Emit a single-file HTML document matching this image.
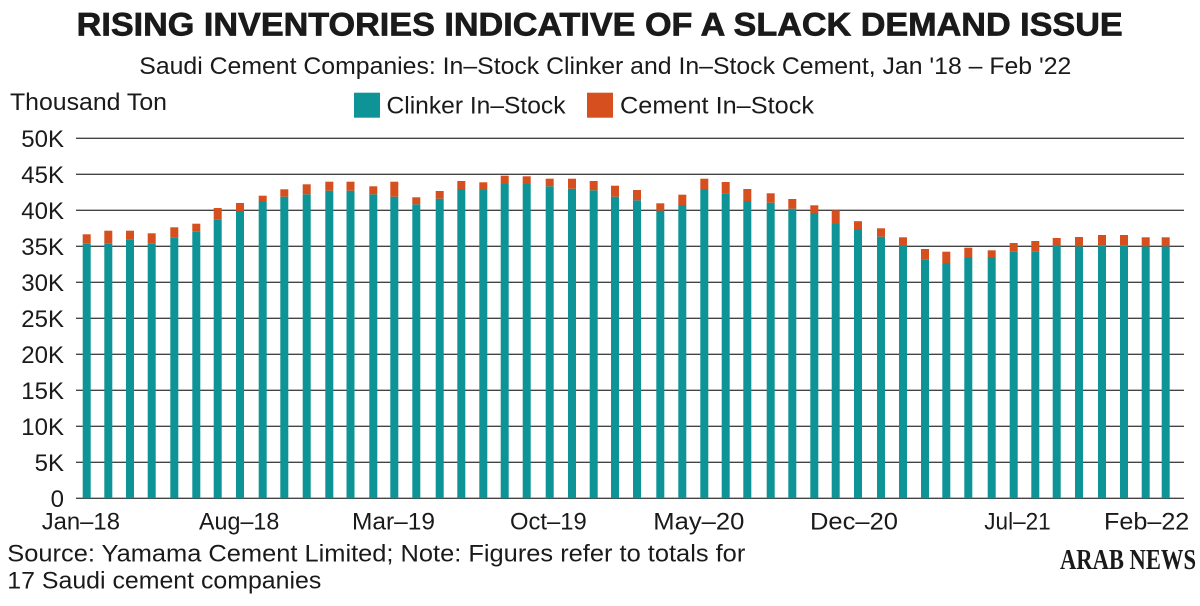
<!DOCTYPE html>
<html>
<head>
<meta charset="utf-8">
<style>
  html, body { margin: 0; padding: 0; background: #ffffff; }
  body { width: 1200px; height: 606px; overflow: hidden; }
  svg { display: block; }
  text { font-family: "Liberation Sans", "DejaVu Sans", sans-serif; fill: #1a1a1a; }
</style>
</head>
<body>
<svg width="1200" height="606" viewBox="0 0 1200 606" xmlns="http://www.w3.org/2000/svg">
  <rect x="0" y="0" width="1200" height="606" fill="#ffffff"/>

  <!-- Title -->
  <text x="76.7" y="35.7" font-size="32" font-weight="bold" stroke="#1a1a1a" stroke-width="0.7" textLength="1046" lengthAdjust="spacingAndGlyphs">RISING INVENTORIES INDICATIVE OF A SLACK DEMAND ISSUE</text>
  <!-- Subtitle -->
  <text x="139.3" y="74" font-size="24" textLength="932" lengthAdjust="spacingAndGlyphs">Saudi Cement Companies: In–Stock Clinker and In–Stock Cement, Jan '18 – Feb '22</text>

  <!-- Unit label -->
  <text x="10" y="110" font-size="24" textLength="157" lengthAdjust="spacingAndGlyphs">Thousand Ton</text>

  <!-- Legend -->
  <rect x="354" y="92.7" width="26" height="25" fill="#0e9396"/>
  <text x="386.5" y="113.5" font-size="24" textLength="179" lengthAdjust="spacingAndGlyphs">Clinker In–Stock</text>
  <rect x="587" y="92.7" width="26" height="25" fill="#d5501e"/>
  <text x="620" y="113.5" font-size="24" textLength="194" lengthAdjust="spacingAndGlyphs">Cement In–Stock</text>

  <!-- Gridlines -->
  <g stroke="#444444" stroke-width="1.4">
    <line x1="76" y1="138.3" x2="1184" y2="138.3"/>
    <line x1="76" y1="174.3" x2="1184" y2="174.3"/>
    <line x1="76" y1="210.3" x2="1184" y2="210.3"/>
    <line x1="76" y1="246.3" x2="1184" y2="246.3"/>
    <line x1="76" y1="282.3" x2="1184" y2="282.3"/>
    <line x1="76" y1="318.3" x2="1184" y2="318.3"/>
    <line x1="76" y1="354.3" x2="1184" y2="354.3"/>
    <line x1="76" y1="390.3" x2="1184" y2="390.3"/>
    <line x1="76" y1="426.3" x2="1184" y2="426.3"/>
    <line x1="76" y1="462.3" x2="1184" y2="462.3"/>
    <line x1="76" y1="498.3" x2="1184" y2="498.3"/>
  </g>

  <!-- Y labels -->
  <g font-size="24" text-anchor="end">
    <text x="64" y="146.8">50K</text>
    <text x="64" y="182.8">45K</text>
    <text x="64" y="218.8">40K</text>
    <text x="64" y="254.8">35K</text>
    <text x="64" y="290.8">30K</text>
    <text x="64" y="326.8">25K</text>
    <text x="64" y="362.8">20K</text>
    <text x="64" y="398.8">15K</text>
    <text x="64" y="434.8">10K</text>
    <text x="64" y="470.8">5K</text>
    <text x="64" y="506.8">0</text>
  </g>

  <!-- Bars: clinker (teal) -->
  <g fill="#0e9396">
    <rect x="82.7" y="243.7" width="8" height="254.6"/>
    <rect x="104.3" y="243.7" width="8" height="254.6"/>
    <rect x="126" y="239.3" width="8" height="259"/>
    <rect x="147.7" y="243.7" width="8" height="254.6"/>
    <rect x="170.3" y="237.3" width="8" height="261"/>
    <rect x="192.3" y="231.7" width="8" height="266.6"/>
    <rect x="213.7" y="219.3" width="8" height="279"/>
    <rect x="236" y="211" width="8" height="287.3"/>
    <rect x="258.7" y="201" width="8" height="297.3"/>
    <rect x="280.3" y="196.7" width="8" height="301.6"/>
    <rect x="302.7" y="194.3" width="8" height="304"/>
    <rect x="325.3" y="190.7" width="8" height="307.6"/>
    <rect x="346.5" y="190.7" width="8" height="307.6"/>
    <rect x="369.3" y="194.3" width="8" height="304"/>
    <rect x="390.3" y="196.7" width="8" height="301.6"/>
    <rect x="412.3" y="204.3" width="8" height="294"/>
    <rect x="435.7" y="198.7" width="8" height="299.6"/>
    <rect x="457.3" y="189" width="8" height="309.3"/>
    <rect x="479.3" y="190" width="8" height="308.3"/>
    <rect x="500.7" y="184" width="8" height="314.3"/>
    <rect x="522.7" y="184" width="8" height="314.3"/>
    <rect x="545.7" y="186.3" width="8" height="312"/>
    <rect x="568" y="188.7" width="8" height="309.6"/>
    <rect x="589.7" y="190.3" width="8" height="308"/>
    <rect x="611" y="196.7" width="8" height="301.6"/>
    <rect x="633" y="200.3" width="8" height="298"/>
    <rect x="656.3" y="210.7" width="8" height="287.6"/>
    <rect x="678.3" y="205" width="8" height="293.3"/>
    <rect x="700.3" y="189" width="8" height="309.3"/>
    <rect x="721.7" y="193.3" width="8" height="305"/>
    <rect x="743.3" y="201" width="8" height="297.3"/>
    <rect x="766.7" y="202.7" width="8" height="295.6"/>
    <rect x="788.3" y="208.7" width="8" height="289.6"/>
    <rect x="810.3" y="213" width="8" height="285.3"/>
    <rect x="831.7" y="224" width="8" height="274.3"/>
    <rect x="854" y="229.5" width="8" height="268.8"/>
    <rect x="877" y="236.7" width="8" height="261.6"/>
    <rect x="899" y="245.7" width="8" height="252.6"/>
    <rect x="921" y="259.3" width="8" height="239"/>
    <rect x="942.3" y="263" width="8" height="235.3"/>
    <rect x="964.3" y="257" width="8" height="241.3"/>
    <rect x="987.7" y="257" width="8" height="241.3"/>
    <rect x="1009.7" y="251.7" width="8" height="246.6"/>
    <rect x="1031.3" y="251.7" width="8" height="246.6"/>
    <rect x="1052.7" y="245.7" width="8" height="252.6"/>
    <rect x="1075" y="246.3" width="8" height="252"/>
    <rect x="1098" y="245.3" width="8" height="253"/>
    <rect x="1120" y="245.3" width="8" height="253"/>
    <rect x="1141.7" y="246.3" width="8" height="252"/>
    <rect x="1161.7" y="246.3" width="8" height="252"/>
  </g>

  <!-- Bars: cement (orange) -->
  <g fill="#d5501e">
    <rect x="82.7" y="234.3" width="8" height="9.4"/>
    <rect x="104.3" y="230.7" width="8" height="13"/>
    <rect x="126" y="230.7" width="8" height="8.6"/>
    <rect x="147.7" y="233.3" width="8" height="10.4"/>
    <rect x="170.3" y="227.3" width="8" height="10"/>
    <rect x="192.3" y="223.7" width="8" height="8"/>
    <rect x="213.7" y="208" width="8" height="11.3"/>
    <rect x="236" y="203" width="8" height="8"/>
    <rect x="258.7" y="195.7" width="8" height="5.3"/>
    <rect x="280.3" y="189.3" width="8" height="7.4"/>
    <rect x="302.7" y="184.3" width="8" height="10"/>
    <rect x="325.3" y="181.7" width="8" height="9"/>
    <rect x="346.5" y="181.7" width="8" height="9"/>
    <rect x="369.3" y="186.3" width="8" height="8"/>
    <rect x="390.3" y="181.7" width="8" height="15"/>
    <rect x="412.3" y="197.3" width="8" height="7"/>
    <rect x="435.7" y="191" width="8" height="7.7"/>
    <rect x="457.3" y="181" width="8" height="8"/>
    <rect x="479.3" y="182.3" width="8" height="7.7"/>
    <rect x="500.7" y="175.7" width="8" height="8.3"/>
    <rect x="522.7" y="176.3" width="8" height="7.7"/>
    <rect x="545.7" y="178.7" width="8" height="7.6"/>
    <rect x="568" y="178.7" width="8" height="10"/>
    <rect x="589.7" y="181" width="8" height="9.3"/>
    <rect x="611" y="185.7" width="8" height="11"/>
    <rect x="633" y="190" width="8" height="10.3"/>
    <rect x="656.3" y="203.3" width="8" height="7.4"/>
    <rect x="678.3" y="194.7" width="8" height="10.3"/>
    <rect x="700.3" y="178.7" width="8" height="10.3"/>
    <rect x="721.7" y="182" width="8" height="11.3"/>
    <rect x="743.3" y="189" width="8" height="12"/>
    <rect x="766.7" y="193.3" width="8" height="9.4"/>
    <rect x="788.3" y="199" width="8" height="9.7"/>
    <rect x="810.3" y="205.3" width="8" height="7.7"/>
    <rect x="831.7" y="210.3" width="8" height="13.7"/>
    <rect x="854" y="221.2" width="8" height="8.3"/>
    <rect x="877" y="228.3" width="8" height="8.4"/>
    <rect x="899" y="237.3" width="8" height="8.4"/>
    <rect x="921" y="249" width="8" height="10.3"/>
    <rect x="942.3" y="251.7" width="8" height="11.3"/>
    <rect x="964.3" y="247.7" width="8" height="9.3"/>
    <rect x="987.7" y="250.3" width="8" height="6.7"/>
    <rect x="1009.7" y="243" width="8" height="8.7"/>
    <rect x="1031.3" y="241" width="8" height="10.7"/>
    <rect x="1052.7" y="238" width="8" height="7.7"/>
    <rect x="1075" y="237" width="8" height="9.3"/>
    <rect x="1098" y="235" width="8" height="10.3"/>
    <rect x="1120" y="235" width="8" height="10.3"/>
    <rect x="1141.7" y="237.3" width="8" height="9"/>
    <rect x="1161.7" y="237.3" width="8" height="9"/>
  </g>

  <!-- X labels -->
  <g font-size="24">
    <text x="41.7" y="529.3" textLength="78.3" lengthAdjust="spacingAndGlyphs">Jan–18</text>
    <text x="199" y="529.3" textLength="80.3" lengthAdjust="spacingAndGlyphs">Aug–18</text>
    <text x="352" y="529.3" textLength="83" lengthAdjust="spacingAndGlyphs">Mar–19</text>
    <text x="510" y="529.3" textLength="76.7" lengthAdjust="spacingAndGlyphs">Oct–19</text>
    <text x="653.3" y="529.3" textLength="91" lengthAdjust="spacingAndGlyphs">May–20</text>
    <text x="810" y="529.3" textLength="88" lengthAdjust="spacingAndGlyphs">Dec–20</text>
    <text x="984.3" y="529.3" textLength="66.4" lengthAdjust="spacingAndGlyphs">Jul–21</text>
    <text x="1104" y="529.3" textLength="85.3" lengthAdjust="spacingAndGlyphs">Feb–22</text>
  </g>

  <!-- Footer -->
  <text x="7.3" y="561.5" font-size="24" textLength="738" lengthAdjust="spacingAndGlyphs">Source: Yamama Cement Limited; Note: Figures refer to totals for</text>
  <text x="7.3" y="588.5" font-size="24" textLength="314" lengthAdjust="spacingAndGlyphs">17 Saudi cement companies</text>

  <!-- Logo -->
  <text x="1060" y="569" font-family="Liberation Serif, DejaVu Serif, serif" font-size="28" font-weight="bold" textLength="136" lengthAdjust="spacingAndGlyphs" style="font-family:'Liberation Serif','DejaVu Serif',serif">ARAB NEWS</text>
</svg>
</body>
</html>
